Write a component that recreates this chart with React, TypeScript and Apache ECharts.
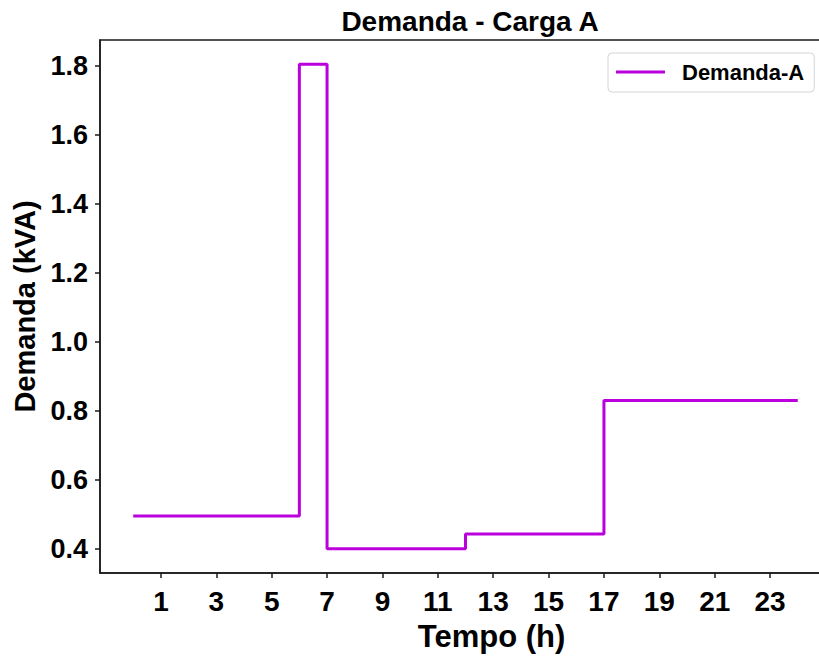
import React, { useEffect, useRef } from "react";
import * as echarts from "echarts";

// Hourly demand (kVA), hours 0..24, drawn as a post-step line
const hours = [0, 1, 2, 3, 4, 5, 6, 7, 8, 9, 10, 11, 12, 13, 14, 15, 16, 17, 18, 19, 20, 21, 22, 23, 24];
const demanda = [
  0.495, 0.495, 0.495, 0.495, 0.495, 0.495,
  1.805,
  0.4, 0.4, 0.4, 0.4, 0.4,
  0.443, 0.443, 0.443, 0.443, 0.443,
  0.83, 0.83, 0.83, 0.83, 0.83, 0.83, 0.83, 0.83,
];
const xTicks = [1, 3, 5, 7, 9, 11, 13, 15, 17, 19, 21, 23];
const yTicks = [0.4, 0.6, 0.8, 1.0, 1.2, 1.4, 1.6, 1.8];
const seriesName = "Demanda-A";
const titleText = "Demanda - Carga A";
const xLabel = "Tempo (h)";
const yLabel = "Demanda (kVA)";

const FONT = "'Liberation Sans', Arial, Helvetica, sans-serif";
const AXIS_COLOR = "#1a1a1a";
const LINE_COLOR = "#bb00dd";

export default function App() {
  const ref = useRef<HTMLDivElement>(null);

  useEffect(() => {
    if (!ref.current) return;
    const chart = echarts.init(ref.current, undefined, { renderer: "svg" });

    // matplotlib-like 5% margins
    const xMinD = Math.min(...hours);
    const xMaxD = Math.max(...hours);
    const xPad = (xMaxD - xMinD) * 0.05;
    const yMinD = Math.min(...demanda);
    const yMaxD = Math.max(...demanda);
    const yPad = (yMaxD - yMinD) * 0.05;

    chart.setOption({
      animation: false,
      backgroundColor: "#ffffff",
      title: {
        text: titleText,
        left: 465,
        top: 2,
        textAlign: "center",
        textStyle: { fontFamily: FONT, fontWeight: "bold", fontSize: 28, color: "#000" },
      },
      legend: {
        data: [seriesName],
        left: 608,
        top: 53,
        icon: "rect",
        itemWidth: 49,
        itemHeight: 3,
        padding: [8, 10, 9, 8],
        backgroundColor: "#ffffff",
        borderColor: "#d4d4d4",
        borderWidth: 1,
        borderRadius: 4,
        textStyle: {
          fontFamily: FONT,
          fontWeight: "bold",
          fontSize: 22,
          color: "#000",
          padding: [0, 0, 0, 12],
        },
      },
      grid: {
        left: 100,
        top: 40,
        width: 731,
        bottom: 86,
        outerBoundsMode: "none",
        containLabel: false,
        show: true,
        borderColor: AXIS_COLOR,
        borderWidth: 1.5,
        backgroundColor: "transparent",
      },
      xAxis: {
        type: "value",
        min: xMinD - xPad,
        max: xMaxD + xPad,
        name: xLabel,
        nameLocation: "middle",
        nameGap: 48,
        nameTextStyle: {
          fontFamily: FONT,
          fontWeight: "bold",
          fontSize: 31,
          color: "#000",
          padding: [0, 0, 0, 52],
        },
        splitLine: { show: false },
        axisLine: { show: true, onZero: false, lineStyle: { color: AXIS_COLOR, width: 1.5 } },
        axisTick: {
          show: true,
          length: 5,
          inside: false,
          customValues: xTicks,
          lineStyle: { color: AXIS_COLOR, width: 1.5 },
        },
        axisLabel: {
          customValues: xTicks,
          margin: 14,
          fontFamily: FONT,
          fontWeight: "bold",
          fontSize: 28,
          color: "#000",
          formatter: (v: number) => String(v),
        },
      },
      yAxis: {
        type: "value",
        min: yMinD - yPad,
        max: yMaxD + yPad,
        name: yLabel,
        nameLocation: "middle",
        nameGap: 58,
        nameRotate: 90,
        nameTextStyle: { fontFamily: FONT, fontWeight: "bold", fontSize: 29, color: "#000" },
        splitLine: { show: false },
        axisLine: { show: true, onZero: false, lineStyle: { color: AXIS_COLOR, width: 1.5 } },
        axisTick: {
          show: true,
          length: 5,
          inside: false,
          customValues: yTicks,
          lineStyle: { color: AXIS_COLOR, width: 1.5 },
        },
        axisLabel: {
          customValues: yTicks,
          margin: 12,
          fontFamily: FONT,
          fontWeight: "bold",
          fontSize: 27,
          color: "#000",
          formatter: (v: number) => v.toFixed(1),
        },
      },
      series: [
        {
          name: seriesName,
          type: "line",
          step: "end",
          symbol: "none",
          showSymbol: false,
          color: LINE_COLOR,
          lineStyle: { color: LINE_COLOR, width: 3 },
          data: hours.map((h, i) => [h, demanda[i]]),
        },
      ],
    });

    return () => {
      chart.dispose();
    };
  }, []);

  return (
    <div
      ref={ref}
      style={{ position: "fixed", left: 0, top: 0, width: 819, height: 659, overflow: "hidden", background: "#fff" }}
    />
  );
}
